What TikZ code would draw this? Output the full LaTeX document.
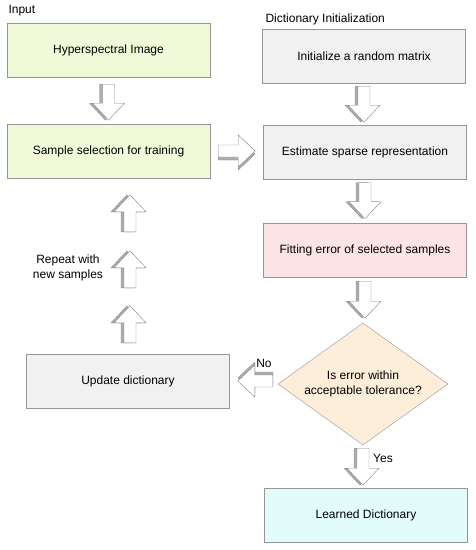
\documentclass[tikz,border=0pt]{standalone}
\usepackage{fontspec}
\setmainfont{Liberation Sans}
\usetikzlibrary{shapes.geometric, calc}
\definecolor{boxGreen}{RGB}{240, 250, 216}
\definecolor{boxGray}{RGB}{241, 241, 241}
\definecolor{boxPink}{RGB}{252, 228, 228}
\definecolor{boxPeach}{RGB}{253, 238, 218}
\definecolor{boxCyan}{RGB}{226, 252, 252}
\definecolor{lineGray}{RGB}{150, 150, 150}

% hollow block arrow: [#1 shading side] #2 tail point, #3 direction, #4 length
\newcommand{\bigarrow}[4][-3]{%
  \begin{scope}[shift={(#2)}]
    \filldraw[arrshade, rotate=#3, yshift=#1pt]
      (0,-6) -- (#4-17,-6) -- (#4-17,-16) -- (#4,0) -- (#4-17,16) -- (#4-17,6) -- (0,6) -- cycle;
    \filldraw[arrbody, rotate=#3]
      (0,-6) -- (#4-17,-6) -- (#4-17,-16) -- (#4,0) -- (#4-17,16) -- (#4-17,6) -- (0,6) -- cycle;
  \end{scope}}

\begin{document}
\begin{tikzpicture}[x=1pt, y=-1pt,
    every node/.style={font=\fontsize{12}{15}\selectfont},
    box/.style={draw=lineGray, minimum width=203pt, minimum height=54pt, inner sep=0pt},
    decision/.style={diamond, draw=lineGray, fill=boxPeach, aspect=1.4, inner sep=0pt,
      minimum width=170pt, minimum height=122pt, align=center},
    arrbody/.style={draw=gray, fill=white, line join=round},
    arrshade/.style={draw=gray!85, fill=gray!65, line join=round}]
    \useasboundingbox (0,0) rectangle (476,550);

    % left column
    \node[anchor=west] (input) at (5, 11) {Input};
    \node[box, fill=boxGreen] (hsi) at (108.5, 50) {Hyperspectral Image};
    \node[box, fill=boxGreen] (sel) at (108.5, 151) {Sample selection for training};
    \node[box, fill=boxGray] (upd) at (128, 381) {Update dictionary};
    \node[align=center] (repeat) at (68, 268) {Repeat with\\new samples};

    % right column
    \node[anchor=west] (dictinit) at (262, 19) {Dictionary Initialization};
    \node[box, fill=boxGray] (init) at (364, 56) {Initialize a random matrix};
    \node[box, fill=boxGray] (est) at (365, 152.5) {Estimate sparse representation};
    \node[box, fill=boxPink] (fit) at (365, 250) {Fitting error of selected samples};
    \node[decision] (dec) at (363, 384) {Is error within\\acceptable tolerance?};
    \node[box, fill=boxCyan] (learn) at (366, 515.5) {Learned Dictionary};
    \node (no) at (264, 363) {No};
    \node (yes) at (383, 458) {Yes};

    % block arrows
    \bigarrow{$(hsi.south)+(0,7)$}{-90}{36}
    \bigarrow{$(sel.east)+(8,0)$}{0}{37}
    \bigarrow{$(init.south)+(0,3)$}{-90}{36}
    \bigarrow{$(est.south)+(0,3)$}{-90}{36}
    \bigarrow{$(fit.south)+(0,4)$}{-90}{37}
    \bigarrow{$(dec.south)+(0,3)$}{-90}{37}
    \bigarrow{$(dec.west)+(-5,-3)$}{180}{35}
    \foreach \dy in {11,66,122} {
      \bigarrow[3]{$(upd.north)+(2,-\dy)$}{90}{37}
    }
\end{tikzpicture}
\end{document}
